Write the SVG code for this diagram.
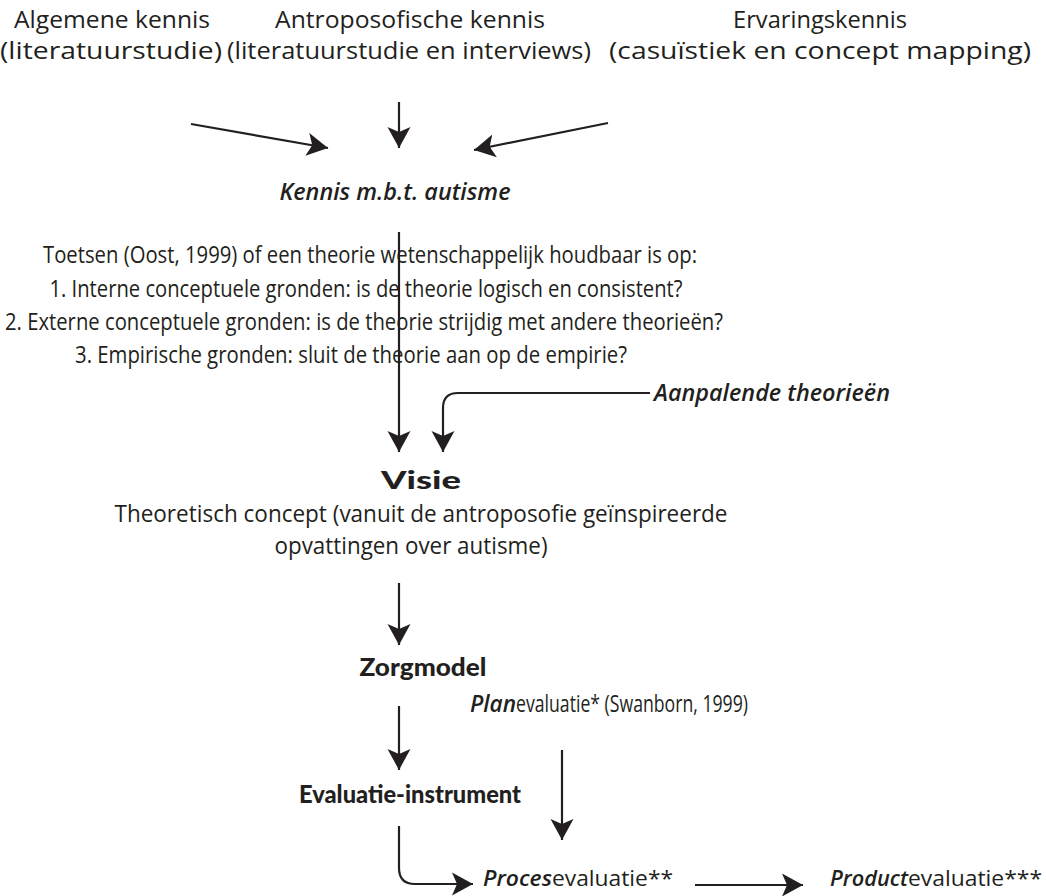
<svg xmlns="http://www.w3.org/2000/svg" width="1046" height="896" viewBox="0 0 1046 896">
<style>
text{font-family:"Open Sans","DejaVu Sans",sans-serif;fill:#231f20;font-size:24px}
.c{text-anchor:middle}
.it{font-style:italic;font-weight:600}
.bd{font-family:Lato,"Open Sans",sans-serif;font-weight:900;font-size:25px}
.sm{font-size:22px}
.ln{fill:none;stroke:#231f20;stroke-width:2.2}
</style>
<defs>
<marker id="ah" markerUnits="userSpaceOnUse" markerWidth="22" markerHeight="24" refX="21" refY="12" orient="auto" viewBox="0 0 22 24">
<path d="M0,0.5 L21,12 L0,23.5 L5,12 z" fill="#231f20"/>
</marker>
</defs>
<g id="n-algemene"><text class="c" x="112" y="28" textLength="196" lengthAdjust="spacingAndGlyphs">Algemene kennis</text><text class="c" x="111" y="59" textLength="222" lengthAdjust="spacingAndGlyphs">(literatuurstudie)</text></g>
<g id="n-antroposofisch"><text class="c" x="410" y="28" textLength="270" lengthAdjust="spacingAndGlyphs">Antroposofische kennis</text><text class="c" x="409" y="59" textLength="364" lengthAdjust="spacingAndGlyphs">(literatuurstudie en interviews)</text></g>
<g id="n-ervaring"><text class="c" x="820" y="28" textLength="174" lengthAdjust="spacingAndGlyphs">Ervaringskennis</text><text class="c" x="820" y="59" textLength="422" lengthAdjust="spacingAndGlyphs">(casuïstiek en concept mapping)</text></g>
<g id="n-kennis"><text class="c it" x="395" y="200" textLength="231" lengthAdjust="spacingAndGlyphs">Kennis m.b.t. autisme</text></g>
<g id="n-toetsen">
<text class="c" x="370" y="263" textLength="654" lengthAdjust="spacingAndGlyphs">Toetsen (Oost, 1999) of een theorie wetenschappelijk houdbaar is op:</text>
<text class="c" x="366" y="297" textLength="633" lengthAdjust="spacingAndGlyphs">1. Interne conceptuele gronden: is de theorie logisch en consistent?</text>
<text class="c" x="364" y="330" textLength="718" lengthAdjust="spacingAndGlyphs">2. Externe conceptuele gronden: is de theorie strijdig met andere theorieën?</text>
<text class="c" x="351" y="363" textLength="552" lengthAdjust="spacingAndGlyphs">3. Empirische gronden: sluit de theorie aan op de empirie?</text>
</g>
<g id="n-aanpalend"><text class="it" x="654" y="401" textLength="236" lengthAdjust="spacingAndGlyphs">Aanpalende theorieën</text></g>
<g id="n-visie">
<text class="c bd" x="421" y="489" textLength="80" lengthAdjust="spacingAndGlyphs">Visie</text>
<text class="c" x="421" y="522" textLength="613" lengthAdjust="spacingAndGlyphs">Theoretisch concept (vanuit de antroposofie geïnspireerde</text>
<text class="c" x="411" y="554" textLength="273" lengthAdjust="spacingAndGlyphs">opvattingen over autisme)</text>
</g>
<g id="n-zorgmodel"><text class="c bd" x="423" y="676" textLength="127" lengthAdjust="spacingAndGlyphs">Zorgmodel</text></g>
<g id="n-plan"><text class="it" x="470" y="712" textLength="46" lengthAdjust="spacingAndGlyphs">Plan</text><text x="516" y="712" textLength="232" lengthAdjust="spacingAndGlyphs">evaluatie* (Swanborn, 1999)</text></g>
<g id="n-instrument"><text class="c bd" x="410" y="803" textLength="222" lengthAdjust="spacingAndGlyphs">Evaluatie-instrument</text></g>
<g id="n-proces"><text class="it sm" x="483" y="886" textLength="69" lengthAdjust="spacingAndGlyphs">Proces</text><text class="sm" x="552" y="886" textLength="121" lengthAdjust="spacingAndGlyphs">evaluatie**</text></g>
<g id="n-product"><text class="it sm" x="830" y="886" textLength="78" lengthAdjust="spacingAndGlyphs">Product</text><text class="sm" x="908" y="886" textLength="134" lengthAdjust="spacingAndGlyphs">evaluatie***</text></g>
<g id="connectors">
<line class="ln" x1="191" y1="124" x2="328" y2="148" marker-end="url(#ah)"/>
<line class="ln" x1="399" y1="102" x2="399" y2="148" marker-end="url(#ah)"/>
<line class="ln" x1="608" y1="123" x2="474" y2="150" marker-end="url(#ah)"/>
<line class="ln" x1="399" y1="232" x2="399" y2="452" marker-end="url(#ah)"/>
<path class="ln" d="M650,393 L458,393 Q443,393 443,408 L443,452" marker-end="url(#ah)"/>
<line class="ln" x1="399" y1="583" x2="399" y2="645" marker-end="url(#ah)"/>
<line class="ln" x1="399" y1="706" x2="399" y2="770" marker-end="url(#ah)"/>
<line class="ln" x1="562" y1="750" x2="562" y2="840" marker-end="url(#ah)"/>
<path class="ln" d="M399,826 L399,868 Q399,884 415,884 L473,884" marker-end="url(#ah)"/>
<line class="ln" x1="695" y1="885" x2="803" y2="885" marker-end="url(#ah)"/>
</g>
</svg>
